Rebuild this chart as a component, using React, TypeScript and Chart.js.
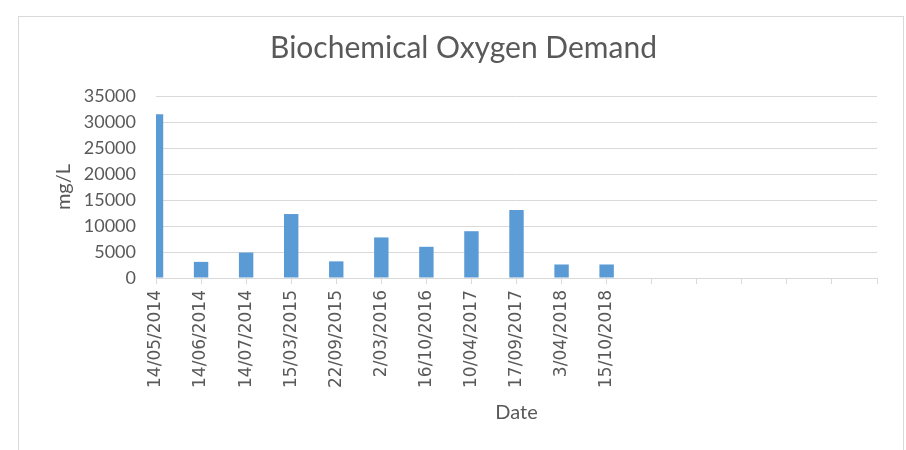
import React, { useEffect, useRef } from "react";
import { Chart, registerables } from "chart.js";

Chart.register(...registerables);

const dates: string[] = [
  "14/05/2014", "14/06/2014", "14/07/2014", "15/03/2015", "22/09/2015", "2/03/2016",
  "16/10/2016", "10/04/2017", "17/09/2017", "3/04/2018", "15/10/2018",
  "", "", "", "", "", "",
];
const bodValues: (number | null)[] = [
  31500, 3100, 4900, 12300, 3200, 7800, 6000, 9000, 13100, 2600, 2600,
];
const yTicks = { min: 0, max: 35000, step: 5000 };

const TEXT = "#595959";
const GRID = "#d9d9d9";

export default function App() {
  const ref = useRef<HTMLCanvasElement | null>(null);
  useEffect(() => {
    if (!ref.current) return;
    const chart = new Chart(ref.current, {
      type: "bar",
      data: {
        labels: dates,
        datasets: [
          {
            label: "BOD",
            data: bodValues,
            backgroundColor: "#5b9bd5",
            borderWidth: 0,
            categoryPercentage: 0.32,
            barPercentage: 1,
            clip: 0,
          } as any,
        ],
      },
      options: {
        responsive: false,
        animation: false,
        devicePixelRatio: 1,
        layout: { padding: { top: 0, left: 50, right: 29, bottom: 20 } },
        plugins: {
          legend: { display: false },
          tooltip: { enabled: false },
          title: {
            display: true,
            text: "Biochemical Oxygen Demand",
            color: TEXT,
            font: { family: "Lato", size: 30, weight: "normal" },
            padding: { top: 30, bottom: 30 },
          },
        },
        scales: {
          x: {
            offset: false,
            grid: {
              offset: false,
              drawOnChartArea: false,
              drawTicks: true,
              tickLength: 6,
              color: GRID,
            },
            border: { color: GRID },
            ticks: {
              autoSkip: false,
              minRotation: 90,
              maxRotation: 90,
              padding: 6,
              color: TEXT,
              font: { family: "DejaVu Sans", size: 17 },
            },
            title: {
              display: true,
              text: "Date",
              color: TEXT,
              font: { family: "Lato", size: 20 },
              padding: { top: 0, bottom: 5 },
            },
            afterFit: (s: any) => {
              s.height = 152;
            },
          },
          y: {
            min: yTicks.min,
            max: yTicks.max,
            grid: { color: GRID, drawTicks: false },
            border: { display: false },
            ticks: {
              stepSize: yTicks.step,
              padding: 20,
              color: TEXT,
              font: { family: "Lato", size: 18 },
              callback: (v: any) => String(v),
            },
            title: {
              display: true,
              text: "mg/L",
              color: TEXT,
              font: { family: "Lato", size: 20 },
              padding: { top: 2, bottom: 0 },
            },
            afterFit: (s: any) => {
              s.width = 106;
            },
          },
        },
      },
    });
    return () => chart.destroy();
  }, []);

  return (
    <div style={{ position: "absolute", left: 0, top: 0, width: 906, height: 450, background: "#fff", overflow: "hidden" }}>
      <div
        style={{
          position: "absolute",
          left: 18,
          top: 16,
          width: 884,
          height: 460,
          border: "1px solid #d9d9d9",
        }}
      />
      <canvas ref={ref} width={906} height={450} style={{ position: "absolute", left: 0, top: 0 }} />
    </div>
  );
}
